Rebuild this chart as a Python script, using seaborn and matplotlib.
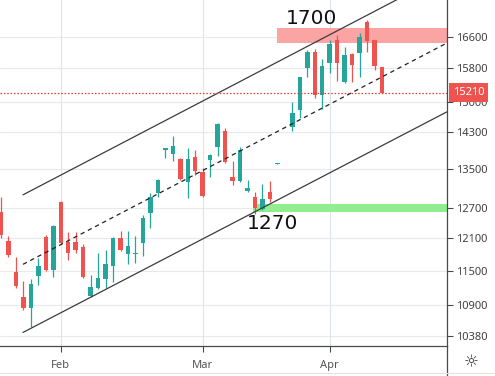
import matplotlib
matplotlib.use("Agg")
import matplotlib.pyplot as plt
import matplotlib.ticker as mticker
from matplotlib.lines import Line2D
import numpy as np
import pandas as pd
import seaborn as sns

# daily candles (one per slot, index 38 has no candle)
opens = [12607, 12046, 11473, 11032, 10843, 11402, 12122, 11510, 12806, 12027,
         12027, 11933, 11049, 11189, 11348, 11582, 12103, 11802, 11812, 12008,
         12587, 12988, 13910, 13808, 13700, 13215, 13743, 13424, 13679, 13961,
         14316, 13319, 13235, 13029, 12907, 12666, 13009, 13610, np.nan, 14406,
         14796, 15804, 16206, 15148, 15929, 16514, 15461, 16155, 16181, 16988,
         16514, 15829]
highs = [12907, 12141, 11750, 11313, 11348, 11728, 12160, 12352, 12826, 12217,
         12217, 11989, 11420, 11821, 11877, 12122, 12236, 12236, 12141, 12547,
         12988, 13277, 13939, 14204, 13722, 13939, 13895, 13508, 13808, 14497,
         14383, 13657, 13961, 13256, 13009, 13173, 13235, 13625, np.nan, 14983,
         15582, 16257, 16282, 16029, 16514, 16644, 16334, 16181, 16697, 17041,
         16514, 15829]
lows = [12103, 11747, 11189, 10809, 10524, 11242, 11492, 11384, 11989, 11692,
        11821, 11366, 11032, 11171, 11189, 11295, 11858, 11619, 11637, 11765,
        12294, 12907, 13722, 13657, 13256, 12887, 13360, 12907, 13319, 13765,
        13614, 13153, 13215, 13009, 12567, 12646, 12806, 13604, np.nan, 14316,
        14611, 15582, 15077, 14819, 15680, 15485, 15436, 15461, 15582, 16206,
        15754, 15196]
closes = [12160, 11784, 11224, 10843, 11259, 11582, 11510, 12333, 12008, 11830,
          11877, 11384, 11206, 11366, 11619, 12103, 11877, 11952, 11830, 12489,
          12907, 13256, 13940, 13983, 13277, 13700, 13445, 12927, 13787, 14474,
          13636, 13235, 13895, 13091, 12686, 12867, 12867, 13625, np.nan, 14726,
          15582, 16206, 15148, 15854, 16411, 15929, 16130, 15879, 16592, 16488,
          15854, 15210]

month_labels = ["Feb", "Mar", "Apr"]
month_pos = [8, 27, 44]
price_ticks = [10380, 10900, 11500, 12100, 12700, 13500, 14300, 15000, 15800, 16600]
last_price = 15210

# channel (start/end points) and zones
channel_x = [2.945, 59.7]
upper_y = [12958, 18340]
mid_y = [11619, 16446]
lower_y = [10441, 14761]
red_zone = (36.9, 16455, 16836)
green_zone = (33.7, 12606, 12765)

UP = "#26a69a"
DOWN = "#ef5350"

df = pd.DataFrame(dict(o=opens, h=highs, l=lows, c=closes))
df["x"] = np.arange(len(df))
df = df.dropna()
df["up"] = df.c >= df.o

sns.set_theme(style="white")
plt.rcParams["font.family"] = ["Noto Sans", "DejaVu Sans"]

W, H = 495, 376
fig = plt.figure(figsize=(W / 100, H / 100), dpi=100)
ax = fig.add_axes([0, 30 / H, 447 / W, 346 / H])
ax.set_yscale("log")
ax.set_xlim(-0.134, 59.7)
ax.set_ylim(10221, 17593)

# grid
for v in price_ticks:
    ax.axhline(v, color="#e6e9ee", lw=0.8, zorder=0)
for p in month_pos:
    ax.axvline(p, color="#dce6ea", lw=0.8, zorder=0)

# zones
ax.fill_between([red_zone[0], 70], red_zone[1], red_zone[2], color="#faa4a4", lw=0, zorder=1)
ax.fill_between([green_zone[0], 70], green_zone[1], green_zone[2], color="#90ee90", lw=0, zorder=1)

# candles
for is_up, col in [(True, UP), (False, DOWN)]:
    d = df[df.up == is_up]
    ax.vlines(d.x, d.l, d.h, color=col, lw=0.9, zorder=3)
    lo = np.minimum(d.o, d.c)
    hi = np.maximum(d.o, d.c)
    ax.bar(d.x, hi - lo, bottom=lo, width=0.6, color=col, lw=0, zorder=4)

# channel lines
ch = pd.DataFrame(dict(x=channel_x * 3,
                       y=upper_y + mid_y + lower_y,
                       line=["upper"] * 2 + ["mid"] * 2 + ["lower"] * 2))
sns.lineplot(data=ch[ch.line != "mid"], x="x", y="y", units="line", estimator=None,
             color="#3c3c3c", lw=0.9, ax=ax, zorder=5)
sns.lineplot(data=ch[ch.line == "mid"], x="x", y="y", estimator=None,
             color="#222222", lw=0.9, dashes=False, linestyle=(0, (3.5, 3)), ax=ax, zorder=5)

# last price line
ax.axhline(last_price, color="#e53935", lw=0.9, ls=(0, (1.2, 1.5)), zorder=6)

ax.text(41.5, 17095, "1700", fontsize=14.5, family="DejaVu Sans", color="#111111",
        ha="center", va="center", zorder=7)
ax.text(36.3, 12390, "1270", fontsize=14.5, family="DejaVu Sans", color="#111111",
        ha="center", va="center", zorder=7)

# axes styling
ax.set_xlabel("")
ax.set_ylabel("")
for s in ["left", "top"]:
    ax.spines[s].set_visible(False)
for s in ["right", "bottom"]:
    ax.spines[s].set_color("#4a4a4a")
    ax.spines[s].set_linewidth(0.9)

ax.yaxis.tick_right()
ax.yaxis.set_major_locator(mticker.FixedLocator(price_ticks))
ax.yaxis.set_major_formatter(mticker.FixedFormatter([str(v) for v in price_ticks]))
ax.yaxis.set_minor_locator(mticker.NullLocator())
ax.tick_params(axis="y", right=True, length=4, width=0.8, color="#4a4a4a",
               labelsize=8, labelcolor="#404040", pad=2.5)
ax.set_xticks(month_pos)
ax.set_xticklabels(month_labels)
ax.tick_params(axis="x", bottom=True, length=4, width=0.8, color="#4a4a4a",
               labelsize=8, labelcolor="#555555", pad=6)

# last price tag
ax.annotate(str(last_price), xy=(1.0, last_price), xycoords=ax.get_yaxis_transform(),
            xytext=(4, 0), textcoords="offset points",
            ha="left", va="center", fontsize=8, fontweight="bold", color="white",
            annotation_clip=False, zorder=10,
            bbox=dict(boxstyle="square,pad=0.36", fc="#ef5350", ec="none"))

# price-scale divider running down to the settings corner, bottom border, gear
fig.add_artist(Line2D([447 / W, 447 / W], [0, 30 / H], color="#4a4a4a", lw=0.9))
fig.add_artist(Line2D([0, 1], [3 / H, 3 / H], color="#e3e3e3", lw=0.8))
fig.text(471.5 / W, 1 - 362 / H, "\u263c", fontsize=12, family="DejaVu Sans",
         color="#333333", ha="center", va="center")

fig.savefig("out.png", dpi=100)
